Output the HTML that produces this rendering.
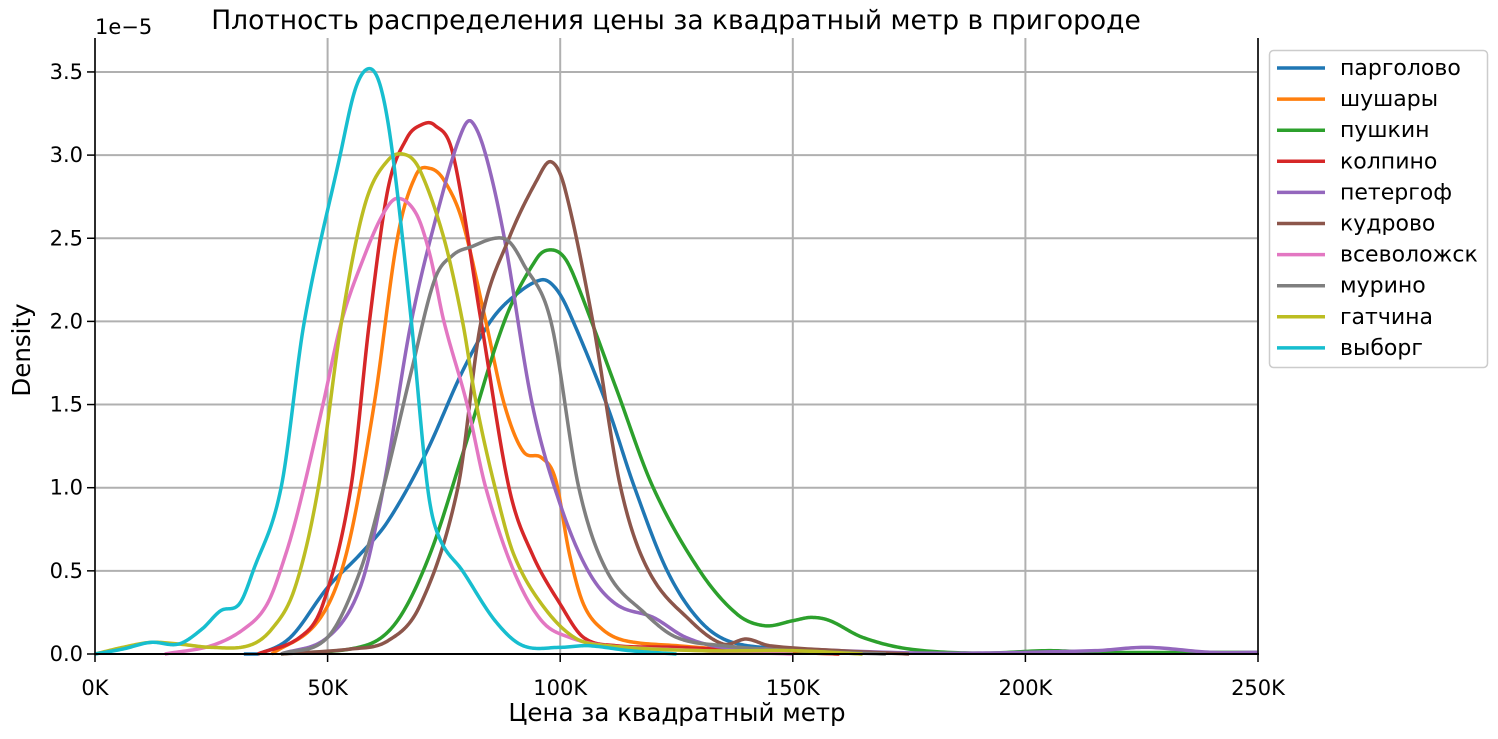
<!DOCTYPE html>
<html><head><meta charset="utf-8"><style>
body{margin:0;background:#fff}
svg text{font-family:"DejaVu Sans","Liberation Sans",sans-serif;fill:#000}
</style></head><body>
<svg id="c" width="1498" height="734"></svg>
<script>
const seriesNames=["парголово","шушары","пушкин","колпино","петергоф","кудрово","всеволожск","мурино","гатчина","выборг"];
const colors=["#1f77b4","#ff7f0e","#2ca02c","#d62728","#9467bd","#8c564b","#e377c2","#7f7f7f","#bcbd22","#17becf"];
const xTicks=[0,50,100,150,200,250];
const xTickLabels=["0K","50K","100K","150K","200K","250K"];
const yTicks=[0,0.5,1,1.5,2,2.5,3,3.5];
const yTickLabels=["0.0","0.5","1.0","1.5","2.0","2.5","3.0","3.5"];
const sParg=[[32,0],[35,0],[42,0.1],[50,0.4],[57,0.6],[63,0.8],[71,1.2],[79,1.7],[85,2.0],[90,2.15],[96,2.25],[99,2.2],[102,2.05],[110,1.5],[116,1.0],[123,0.5],[130,0.2],[137,0.07],[150,0.03],[165,0]];
const sShush=[[38,0],[48,0.2],[54,0.6],[60,1.5],[65,2.5],[69,2.88],[72,2.92],[75,2.85],[79,2.6],[84,2.0],[88,1.5],[92,1.22],[96,1.18],[99,1.05],[102,0.6],[105,0.3],[109,0.15],[114,0.08],[125,0.05],[140,0.02],[160,0]];
const sPush=[[40,0],[58,0.05],[65,0.2],[72,0.6],[79,1.2],[88,2.0],[95,2.38],[98,2.43],[101,2.38],[104,2.2],[112,1.6],[120,1.0],[130,0.5],[138,0.24],[144,0.17],[150,0.2],[154,0.22],[158,0.2],[165,0.1],[175,0.03],[190,0.005],[205,0.02],[215,0.01],[250,0.01]];
const sKolp=[[35,0],[44,0.1],[49,0.3],[55,1.0],[59,2.0],[63,2.8],[67,3.1],[70,3.18],[73,3.18],[77,3.0],[83,2.0],[89,1.0],[94,0.6],[100,0.3],[105,0.1],[112,0.05],[125,0.04],[140,0.02],[160,0]];
const sPeter=[[40,0],[50,0.1],[57,0.4],[62,1.0],[68,2.0],[75,2.8],[79,3.15],[81,3.2],[84,3.0],[88,2.5],[94,1.5],[100,0.9],[106,0.5],[112,0.3],[120,0.22],[127,0.1],[135,0.04],[150,0.03],[180,0.005],[215,0.02],[226,0.04],[240,0.01],[250,0.01]];
const sKudr=[[40,0],[55,0.03],[63,0.08],[70,0.3],[78,1.0],[83,2.0],[89,2.5],[95,2.85],[98,2.96],[101,2.8],[107,2.0],[113,1.0],[119,0.5],[128,0.2],[135,0.06],[140,0.09],[145,0.05],[160,0.02],[175,0]];
const sVsev=[[15,0],[25,0.05],[32,0.15],[37,0.3],[41,0.6],[44,0.9],[49,1.5],[53,2.0],[58,2.4],[62,2.65],[65,2.74],[69,2.65],[72,2.4],[75,2.0],[80,1.5],[84,1.0],[90,0.5],[96,0.2],[102,0.1],[110,0.05],[130,0.02],[150,0]];
const sMur=[[40,0],[50,0.1],[57,0.5],[62,1.0],[68,1.7],[73,2.25],[77,2.4],[81,2.45],[86,2.5],[89,2.48],[92,2.35],[98,2.0],[104,1.0],[110,0.5],[118,0.25],[125,0.1],[135,0.05],[150,0.02],[170,0]];
const sGatch=[[0,0],[6,0.04],[12,0.07],[18,0.06],[25,0.04],[33,0.05],[38,0.15],[43,0.4],[48,1.0],[53,2.0],[58,2.7],[63,2.97],[67,3.0],[70,2.9],[75,2.5],[79,2.0],[82,1.5],[86,1.0],[90,0.6],[96,0.3],[103,0.1],[110,0.05],[130,0.02],[150,0.02],[165,0]];
const sVyb=[[0,0],[6,0.03],[12,0.07],[18,0.06],[23,0.15],[27,0.26],[31,0.3],[34,0.5],[40,1.0],[45,2.0],[52.7,3.0],[56,3.4],[59,3.52],[61.5,3.4],[64,3.0],[68,2.0],[71.5,1.0],[74,0.7],[79,0.5],[86,0.2],[92,0.05],[100,0.04],[106,0.05],[115,0.02],[125,0]];
const seriesData=[sParg,sShush,sPush,sKolp,sPeter,sKudr,sVsev,sMur,sGatch,sVyb];

const L=95,R=1258,B=654,T=38;
const xs=v=>L+(v/250)*(R-L);
const ys=v=>B-v*166.3;
const NS="http://www.w3.org/2000/svg";
const svg=document.getElementById('c');
function mk(t,a,p){const e=document.createElementNS(NS,t);for(const k in a)e.setAttribute(k,a[k]);(p||svg).appendChild(e);return e;}
const grid=mk('g',{});


xTicks.forEach(v=>mk('line',{x1:xs(v),x2:xs(v),y1:T,y2:B,stroke:'#b0b0b0','stroke-width':2},grid));
yTicks.forEach(v=>mk('line',{x1:L,x2:R,y1:ys(v),y2:ys(v),stroke:'#b0b0b0','stroke-width':2},grid));
// cubic Hermite with centered slopes, sampled
function path(pts){
  const n=pts.length,x=pts.map(p=>p[0]),y=pts.map(p=>p[1]);
  const m=new Array(n);
  for(let i=0;i<n;i++){
    const a=Math.max(i-1,0),b=Math.min(i+1,n-1);
    m[i]=(y[b]-y[a])/(x[b]-x[a]);
  }
  let s='';
  for(let i=0;i<n-1;i++){
    const h=x[i+1]-x[i];
    for(let k=0;k<=20;k++){
      if(i>0&&k===0)continue;
      const t=k/20,t2=t*t,t3=t2*t;
      let v=(2*t3-3*t2+1)*y[i]+(t3-2*t2+t)*h*m[i]+(-2*t3+3*t2)*y[i+1]+(t3-t2)*h*m[i+1];
      v=Math.max(v,0);
      s+=(s?' L':'M')+xs(x[i]+t*h).toFixed(2)+','+ys(v).toFixed(2);
    }
  }
  return s;
}
seriesData.forEach((s,i)=>{
  const e=mk('path',{d:path(s),fill:'none',stroke:colors[i],'stroke-width':3.5,'stroke-linejoin':'round'});
  
  
});
mk('line',{x1:L,x2:L,y1:T,y2:B+1,stroke:'#000','stroke-width':1.5});
mk('line',{x1:R,x2:R,y1:T,y2:B+1,stroke:'#000','stroke-width':1.5});
mk('line',{x1:L-1,x2:R+1,y1:B,y2:B,stroke:'#000','stroke-width':2});
xTicks.forEach((v,i)=>{
  mk('line',{x1:xs(v),x2:xs(v),y1:B,y2:B+8,stroke:'#000','stroke-width':1.5});
  const t=mk('text',{x:xs(v),y:695,'text-anchor':'middle','font-size':21});t.textContent=xTickLabels[i];
  
  
});
yTicks.forEach((v,i)=>{
  mk('line',{x1:L-8,x2:L,y1:ys(v),y2:ys(v),stroke:'#000','stroke-width':1.5});
  const t=mk('text',{x:L-12,y:ys(v)+7,'text-anchor':'end','font-size':21});t.textContent=yTickLabels[i];
  
  
});
let t=mk('text',{x:95,y:34,'font-size':21});t.textContent='1e−5';


t=mk('text',{x:676,y:29,'text-anchor':'middle','font-size':26.5});t.textContent='Плотность распределения цены за квадратный метр в пригороде';


t=mk('text',{x:677,y:721,'text-anchor':'middle','font-size':24.5});t.textContent='Цена за квадратный метр';


t=mk('text',{x:0,y:0,'text-anchor':'middle','font-size':24.5,transform:'translate(30,350) rotate(-90)'});t.textContent='Density';


const lg=mk('g',{});


mk('rect',{x:1269.5,y:50.5,width:218,height:317,rx:4,fill:'#fff',stroke:'#ccc','stroke-width':1.5},lg);
seriesNames.forEach((n,i)=>{
  const y=68+i*31.1;
  mk('line',{x1:1277,x2:1325,y1:y,y2:y,stroke:colors[i],'stroke-width':3.5},lg);
  const tt=mk('text',{x:1340,y:y+7,'font-size':22},lg);tt.textContent=n;
  
  
});
</script>
</body></html>
